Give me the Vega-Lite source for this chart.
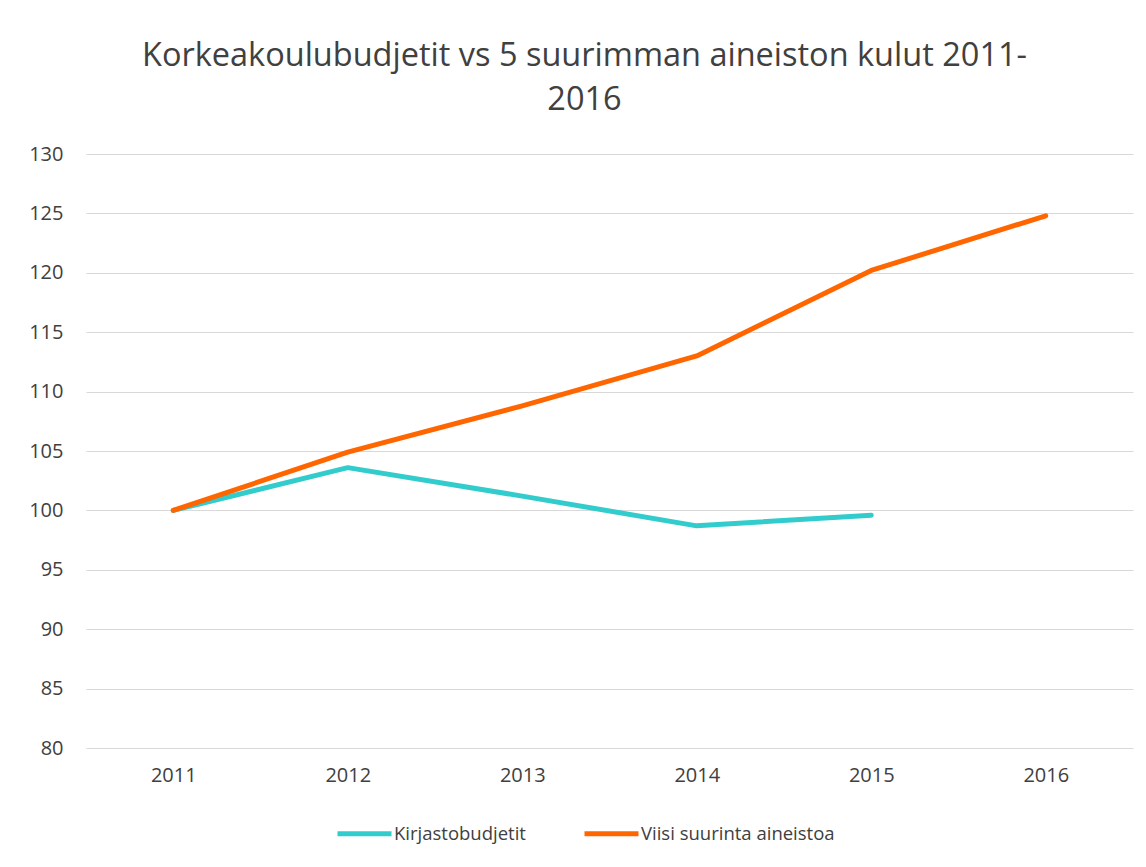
{
  "$schema": "https://vega.github.io/schema/vega-lite/v6.json",
  "autosize": "none",
  "width": 1047,
  "height": 594,
  "padding": {"left": 86, "top": 154, "right": 13, "bottom": 119},
  "background": "white",
  "title": {
    "text": ["Korkeakoulubudjetit vs 5 suurimman aineiston kulut 2011-", "2016"],
    "fontSize": 32.5,
    "font": "Open Sans",
    "fontWeight": "normal",
    "color": "#404040",
    "anchor": "middle",
    "dx": -25,
    "offset": 28,
    "lineHeight": 44
  },
  "data": {
    "values": [
      {"year": "2011", "series": "Kirjastobudjetit", "value": 100},
      {"year": "2012", "series": "Kirjastobudjetit", "value": 103.6},
      {"year": "2013", "series": "Kirjastobudjetit", "value": 101.2},
      {"year": "2014", "series": "Kirjastobudjetit", "value": 98.7},
      {"year": "2015", "series": "Kirjastobudjetit", "value": 99.6},
      {"year": "2011", "series": "Viisi suurinta aineistoa", "value": 100},
      {"year": "2012", "series": "Viisi suurinta aineistoa", "value": 104.9},
      {"year": "2013", "series": "Viisi suurinta aineistoa", "value": 108.8},
      {"year": "2014", "series": "Viisi suurinta aineistoa", "value": 113.0},
      {"year": "2015", "series": "Viisi suurinta aineistoa", "value": 120.2},
      {"year": "2016", "series": "Viisi suurinta aineistoa", "value": 124.8}
    ]
  },
  "mark": {"type": "line", "strokeWidth": 5, "strokeCap": "round", "strokeJoin": "round"},
  "encoding": {
    "x": {
      "field": "year", "type": "ordinal",
      "scale": {"type": "point", "padding": 0.5},
      "axis": {"title": null, "labelAngle": 0, "domain": false, "ticks": false, "grid": false, "labelFontSize": 20, "labelFont": "Open Sans", "labelColor": "#404040", "labelPadding": 17}
    },
    "y": {
      "field": "value", "type": "quantitative",
      "scale": {"domain": [80, 130], "nice": false, "zero": false},
      "axis": {"title": null, "values": [80, 85, 90, 95, 100, 105, 110, 115, 120, 125, 130], "domain": false, "ticks": false, "gridColor": "#d9d9d9", "gridWidth": 1, "labelFontSize": 20, "labelFont": "Open Sans", "labelColor": "#404040", "labelPadding": 23}
    },
    "color": {
      "field": "series", "type": "nominal",
      "scale": {"domain": ["Kirjastobudjetit", "Viisi suurinta aineistoa"], "range": ["#33CCCC", "#FF6600"]},
      "legend": {
        "title": null, "orient": "none", "direction": "horizontal",
        "legendX": 249, "legendY": 650,
        "symbolType": "stroke", "symbolStrokeWidth": 5, "symbolSize": 2916,
        "labelFontSize": 18.5, "labelFont": "Open Sans", "labelColor": "#404040", "labelLimit": 0,
        "columnPadding": 48, "labelOffset": 0
      }
    }
  },
  "config": {"view": {"stroke": null}}
}
